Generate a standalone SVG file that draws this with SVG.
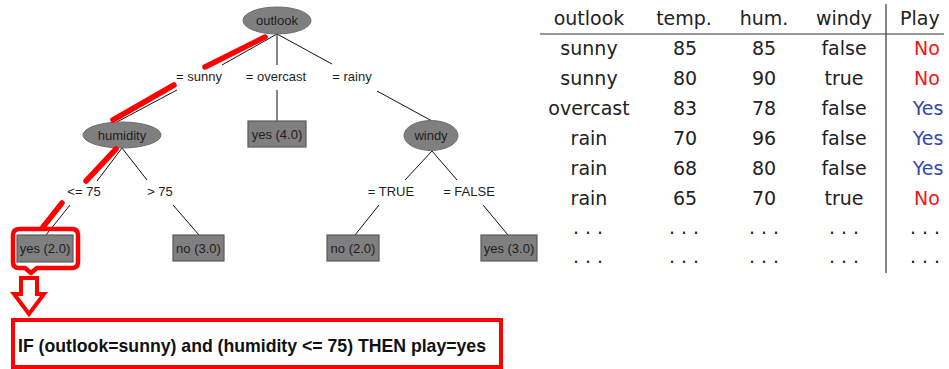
<svg xmlns="http://www.w3.org/2000/svg" width="949" height="369" viewBox="0 0 949 369">
  <style>
    .node { fill: #7f7f7f; stroke: #6e6e6e; stroke-width: 1; }
    .leaf { fill: #7f7f7f; stroke: #5a5a5a; stroke-width: 1.2; }
    .tt { font-family: "Liberation Sans", Arial, sans-serif; font-size: 13px; fill: #1e1e1e; text-anchor: middle; }
    .edge { stroke: #111; stroke-width: 1; fill: none; }
    .hl { stroke: #f00; stroke-width: 5.5; stroke-linecap: round; fill: none; }
    .tb { font-family: "DejaVu Sans", sans-serif; font-size: 19px; fill: #222; text-anchor: middle; }
    .no { fill: #f41414; }
    .yes { fill: #3346b4; }
    .rule { stroke: #333; stroke-width: 1.2; }
  </style>

  <rect width="949" height="369" fill="#fff"/>

  <!-- tree edges -->
  <g id="connectors">
    <line class="edge" x1="277" y1="34" x2="222" y2="65"/>
    <line class="edge" x1="277" y1="34" x2="277" y2="65"/>
    <line class="edge" x1="277" y1="34" x2="332" y2="64"/>
    <line class="edge" x1="177" y1="90" x2="115" y2="123"/>
    <line class="edge" x1="277" y1="90" x2="277" y2="121"/>
    <line class="edge" x1="377" y1="91" x2="432" y2="121"/>
    <line class="edge" x1="122" y1="148" x2="97" y2="181"/>
    <line class="edge" x1="122" y1="148" x2="147" y2="180"/>
    <line class="edge" x1="70" y1="205" x2="46" y2="235"/>
    <line class="edge" x1="173" y1="205" x2="199" y2="235"/>
    <line class="edge" x1="432" y1="151" x2="405" y2="180"/>
    <line class="edge" x1="432" y1="151" x2="457" y2="180"/>
    <line class="edge" x1="379" y1="205" x2="355" y2="235"/>
    <line class="edge" x1="483" y1="205" x2="508" y2="235"/>
  </g>

  <!-- edge labels -->
  <g id="edge-labels" class="tt">
    <text x="199" y="81">= sunny</text>
    <text x="276" y="81">= overcast</text>
    <text x="352" y="81">= rainy</text>
    <text x="84" y="196">&lt;= 75</text>
    <text x="160" y="196">&gt; 75</text>
    <text x="391" y="196">= TRUE</text>
    <text x="469" y="196">= FALSE</text>
  </g>

  <!-- decision nodes -->
  <g id="outlook">
    <ellipse class="node" cx="277" cy="20.5" rx="34" ry="13.5"/>
    <text class="tt" x="277" y="25">outlook</text>
  </g>
  <g id="humidity">
    <ellipse class="node" cx="122" cy="135" rx="39" ry="13"/>
    <text class="tt" x="122" y="139.5">humidity</text>
  </g>
  <g id="windy">
    <ellipse class="node" cx="431" cy="135.5" rx="27" ry="15"/>
    <text class="tt" x="431" y="140">windy</text>
  </g>

  <!-- leaves -->
  <g id="leaf-overcast">
    <rect class="leaf" x="248" y="121" width="58" height="26"/>
    <text class="tt" x="277" y="138.5">yes (4.0)</text>
  </g>
  <g id="leaf-low-humidity">
    <rect class="leaf" x="17" y="235" width="56" height="27"/>
    <text class="tt" x="45" y="253">yes (2.0)</text>
  </g>
  <g id="leaf-high-humidity">
    <rect class="leaf" x="173" y="235" width="51" height="26"/>
    <text class="tt" x="198.5" y="252.5">no (3.0)</text>
  </g>
  <g id="leaf-windy-true">
    <rect class="leaf" x="327" y="235" width="52" height="26"/>
    <text class="tt" x="353" y="252.5">no (2.0)</text>
  </g>
  <g id="leaf-windy-false">
    <rect class="leaf" x="481" y="235" width="56" height="26"/>
    <text class="tt" x="509" y="252.5">yes (3.0)</text>
  </g>

  <!-- highlighted path -->
  <g id="path-highlight">
    <line class="hl" x1="265" y1="37" x2="205" y2="67"/>
    <line class="hl" x1="174" y1="85" x2="113" y2="120"/>
    <line class="hl" x1="116" y1="149" x2="86" y2="181"/>
    <line class="hl" x1="62" y1="203" x2="43" y2="227"/>
    <path d="M20,229 H72 Q78,229 78,235 V262 Q78,268 72,268 H37 L31,273 L25,268 H19 Q13,268 13,262 V235 Q13,229 20,229 Z" fill="none" stroke="#f00" stroke-width="4.5" stroke-linejoin="round"/>
    <polygon points="21,278 37,278 37,294 44,294 29,314 14,294 21,294" fill="#fff" stroke="#f00" stroke-width="4"/>
  </g>

  <!-- extracted rule -->
  <g id="rule-box">
    <rect x="13" y="320" width="488" height="47" fill="#fff" stroke="#f00" stroke-width="4"/>
    <text x="18" y="352" font-family="'Liberation Sans', Arial, sans-serif" font-weight="bold" font-size="19px" fill="#111" textLength="468" lengthAdjust="spacingAndGlyphs">IF (outlook=sunny) and (humidity &lt;= 75) THEN play=yes</text>
  </g>

  <!-- training data table -->
  <g id="data-table">
    <line class="rule" x1="540" y1="34" x2="944" y2="34"/>
    <line class="rule" x1="886" y1="4" x2="886" y2="273"/>
    <g class="tb">
      <text x="589" y="25">outlook</text>
      <text x="684" y="25">temp.</text>
      <text x="764" y="25">hum.</text>
      <text x="844" y="25">windy</text>
      <text x="900" y="25" text-anchor="start">Play</text>

      <text x="589" y="55">sunny</text><text x="685" y="55">85</text><text x="764" y="55">85</text><text x="844" y="55">false</text>
      <text x="589" y="85">sunny</text><text x="685" y="85">80</text><text x="764" y="85">90</text><text x="844" y="85">true</text>
      <text x="589" y="115">overcast</text><text x="685" y="115">83</text><text x="764" y="115">78</text><text x="844" y="115">false</text>
      <text x="589" y="145">rain</text><text x="685" y="145">70</text><text x="764" y="145">96</text><text x="844" y="145">false</text>
      <text x="589" y="175">rain</text><text x="685" y="175">68</text><text x="764" y="175">80</text><text x="844" y="175">false</text>
      <text x="589" y="205">rain</text><text x="685" y="205">65</text><text x="764" y="205">70</text><text x="844" y="205">true</text>

      <text x="588" y="234">. . .</text><text x="684" y="234">. . .</text><text x="764" y="234">. . .</text><text x="844" y="234">. . .</text><text x="925" y="234">. . .</text>
      <text x="588" y="263">. . .</text><text x="684" y="263">. . .</text><text x="764" y="263">. . .</text><text x="844" y="263">. . .</text><text x="925" y="263">. . .</text>

      <text class="no" x="927" y="55">No</text>
      <text class="no" x="927" y="85">No</text>
      <text class="yes" x="928" y="115">Yes</text>
      <text class="yes" x="928" y="145">Yes</text>
      <text class="yes" x="928" y="175">Yes</text>
      <text class="no" x="927" y="205">No</text>
    </g>
  </g>
</svg>
